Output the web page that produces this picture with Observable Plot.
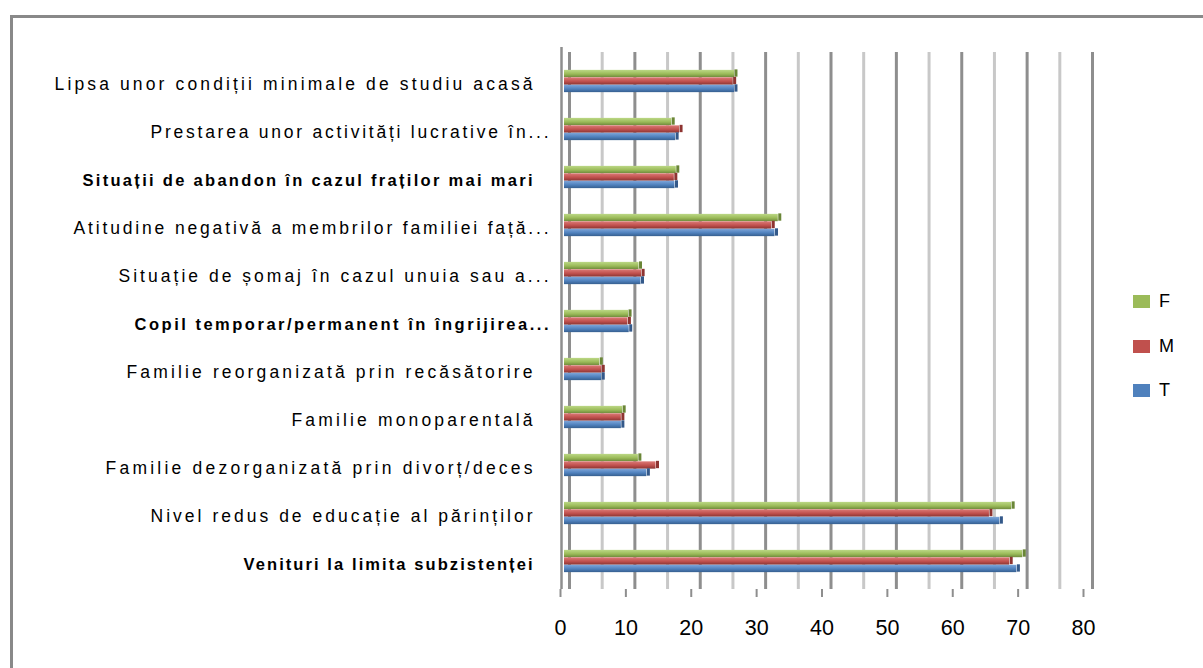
<!DOCTYPE html>
<html>
<head>
<meta charset="utf-8">
<script src="https://cdn.jsdelivr.net/npm/d3@7"></script>
<script src="https://cdn.jsdelivr.net/npm/@observablehq/plot@0.6"></script>
<style>
  html, body { margin: 0; padding: 0; background: #fff; }
  body { width: 1203px; height: 668px; overflow: hidden; position: relative; font-family: "Liberation Sans", Arial, sans-serif; }
  #frame { position: absolute; left: 10px; top: 15px; width: 1400px; height: 900px; border-left: 3px solid #898989; border-top: 3px solid #898989; box-sizing: border-box; }
  #chart { position: absolute; left: 0; top: 0; }
  .key { position: absolute; width: 17px; height: 13px; }
  .lab { position: absolute; font-size: 18px; line-height: 18px; color: #000; }
</style>
</head>
<body>
<div id="frame"></div>
<div id="chart"></div>
<div id="legend"></div>
<script>
// ---- data ----
const categories = [
  "Lipsa unor condiții minimale de studiu acasă",
  "Prestarea unor activități lucrative în...",
  "Situații de abandon în cazul fraților mai mari",
  "Atitudine negativă a membrilor familiei față...",
  "Situație de șomaj în cazul unuia sau a...",
  "Copil temporar/permanent în îngrijirea...",
  "Familie reorganizată prin recăsătorire",
  "Familie monoparentală",
  "Familie dezorganizată prin divorț/deces",
  "Nivel redus de educație al părinților",
  "Venituri la limita subzistenței"
];
const seriesNames = ["F", "M", "T"];
const valuesF = [26.0, 16.4, 17.1, 32.7, 11.4, 9.8, 5.4, 8.9, 11.3, 68.4, 70.1];
const valuesM = [25.8, 17.6, 16.8, 31.7, 11.8, 9.7, 5.7, 8.7, 14.0, 65.0, 68.1];
const valuesT = [26.0, 17.0, 16.9, 32.2, 11.7, 9.9, 5.7, 8.7, 12.6, 66.6, 69.2];
const boldCategories = [
  "Situații de abandon în cazul fraților mai mari",
  "Copil temporar/permanent în îngrijirea...",
  "Venituri la limita subzistenței"
];
const xTicks = [0, 10, 20, 30, 40, 50, 60, 70, 80];
const gridMajor = [0, 10, 20, 30, 40, 50, 60, 70, 80];
const gridMinor = [5, 15, 25, 35, 45, 55, 65, 75];

// ---- styles / layout ----
const colors = { F: "#9bbb59", M: "#c0504d", T: "#4f81bd" };
const grad = {
  F: ["#bcd886", "#9bbb59", "#6f8a3c"],
  M: ["#dc7a77", "#c0504d", "#8a3533"],
  T: ["#7ea6da", "#4f81bd", "#365f8f"]
};
const capColor = { F: "#6a8637", M: "#8e3431", T: "#34598a" };
const labelWidth = {
  "Lipsa unor condiții minimale de studiu acasă": 478,
  "Prestarea unor activități lucrative în...": 398,
  "Situații de abandon în cazul fraților mai mari": 450,
  "Atitudine negativă a membrilor familiei față...": 475,
  "Situație de șomaj în cazul unuia sau a...": 430,
  "Copil temporar/permanent în îngrijirea...": 414,
  "Familie reorganizată prin recăsătorire": 406,
  "Familie monoparentală": 241,
  "Familie dezorganizată prin divorț/deces": 427,
  "Nivel redus de educație al părinților": 382,
  "Venituri la limita subzistenței": 289
};

const rows = categories.flatMap((c, i) => [
  { category: c, series: "F", value: valuesF[i] },
  { category: c, series: "M", value: valuesM[i] },
  { category: c, series: "T", value: valuesT[i] }
]);

const yTop = 56.4, yBottom = 586;
const band = (yBottom - yTop) / categories.length;
const barH = 7.47;
const clusterPad = (band - 3 * barH) / 2;
const insets = {
  F: [clusterPad, band - clusterPad - barH],
  M: [clusterPad + barH, band - clusterPad - 2 * barH],
  T: [clusterPad + 2 * barH, clusterPad]
};

const barMarks = seriesNames.flatMap(s => [
  Plot.barX(rows.filter(d => d.series === s), {
    y: "category", x: "value",
    fill: `url(#grad-${s})`,
    insetTop: insets[s][0], insetBottom: insets[s][1]
  }),
  Plot.tickX(rows.filter(d => d.series === s), {
    y: "category", x: "value",
    stroke: capColor[s], strokeWidth: 3, dx: 1.5, dy: -0.5,
    insetTop: insets[s][0], insetBottom: insets[s][1]
  })
]);

const isTrunc = c => c.endsWith("...");
const labelGroups = [
  { bold: false, trunc: false }, { bold: false, trunc: true },
  { bold: true, trunc: false }, { bold: true, trunc: true }
];
const labelMarks = labelGroups.map(g => Plot.text(
  categories.filter(c => boldCategories.includes(c) === g.bold && isTrunc(c) === g.trunc),
  {
    y: d => d, text: d => d, frameAnchor: "left", textAnchor: "end",
    dx: g.trunc ? -16 : -32, dy: 3,
    fontSize: g.bold ? 16.5 : 17.5, fontWeight: g.bold ? "bold" : "normal", fill: "#000"
  }
));

const chart = Plot.plot({
  width: 1203, height: 668,
  marginLeft: 564, marginRight: 116, marginTop: 56, marginBottom: 79,
  x: { domain: [0, 80], label: null },
  y: { domain: categories, range: [yTop, yBottom], padding: 0, axis: null },
  style: { fontFamily: "'Liberation Sans', Arial, sans-serif", background: "transparent", overflow: "visible" },
  marks: [
    Plot.ruleX(gridMinor, { dx: 5, stroke: "#c8c8c8", strokeWidth: 3, insetTop: -4, insetBottom: 0 }),
    Plot.ruleX(gridMajor, { dx: 5, stroke: "#8e8e8e", strokeWidth: 3, insetTop: -4, insetBottom: 0 }),
    Plot.ruleX([0], { dx: -3, stroke: "#8e8e8e", strokeWidth: 2.5, insetTop: -9, insetBottom: 0 }),
    Plot.axisX(xTicks, {
      anchor: "bottom", tickSize: 8, tickPadding: 22, fontSize: 21.5, label: null,
      stroke: "#8e8e8e", strokeWidth: 2, dx: -4, fill: "#000", line: true
    }),
    ...barMarks,
    ...labelMarks
  ]
});

// gradients for the cylinder-like bars
const svg = d3.select(chart);
const defs = svg.insert("defs", ":first-child");
for (const s of seriesNames) {
  const g = defs.append("linearGradient").attr("id", `grad-${s}`)
    .attr("x1", 0).attr("y1", 0).attr("x2", 0).attr("y2", 1);
  g.append("stop").attr("offset", "0%").attr("stop-color", grad[s][0]);
  g.append("stop").attr("offset", "55%").attr("stop-color", grad[s][1]);
  g.append("stop").attr("offset", "100%").attr("stop-color", grad[s][2]);
}
// stretch the category labels to the widths seen in the reference
svg.selectAll("text").each(function() {
  const t = this.textContent;
  if (labelWidth[t]) {
    this.setAttribute("textLength", labelWidth[t]);
    this.setAttribute("lengthAdjust", "spacing");
  }
});
document.getElementById("chart").appendChild(chart);

// legend (right side)
const legend = document.getElementById("legend");
seriesNames.forEach((s, i) => {
  const top = 295 + i * 44.5;
  const k = document.createElement("div");
  k.className = "key"; k.style.left = "1133px"; k.style.top = top + "px"; k.style.background = colors[s];
  legend.appendChild(k);
  const l = document.createElement("div");
  l.className = "lab"; l.style.left = "1159px"; l.style.top = (top - 3) + "px"; l.textContent = s;
  legend.appendChild(l);
});
</script>
</body>
</html>
